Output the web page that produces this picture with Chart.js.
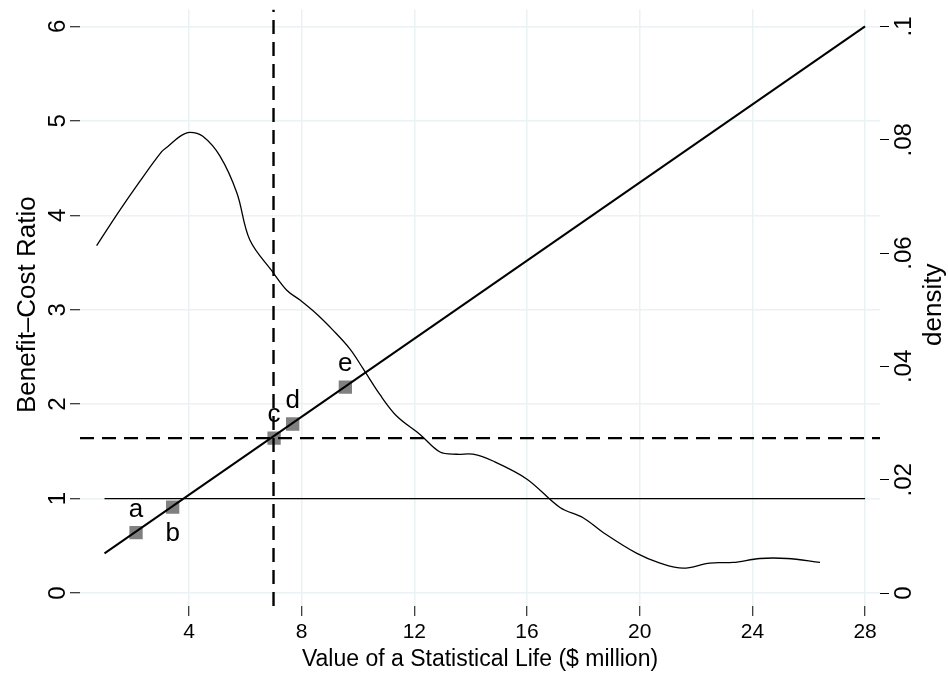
<!DOCTYPE html>
<html>
<head>
<meta charset="utf-8">
<script src="https://cdn.jsdelivr.net/npm/chart.js@4.4.0/dist/chart.umd.min.js"></script>
<style>
  html, body { margin: 0; padding: 0; background: #fff; }
  #wrap { width: 948px; height: 676px; }
</style>
</head>
<body>
<div id="wrap"><canvas id="bcrChart" width="948" height="676"></canvas></div>
<script>
// tick positions
const xTicks = [4, 8, 12, 16, 20, 24, 28];
const bcrTicks = [0, 1, 2, 3, 4, 5, 6];
const densityTicks = [0, 0.02, 0.04, 0.06, 0.08, 0.1];
const densityTickLabels = ["0", ".02", ".04", ".06", ".08", ".1"];

// kernel density of VSL estimates (right axis)
const densityVsl = [0.72, 1.48, 2.26, 3.03, 3.25, 3.68, 4.03, 4.49, 5.10, 5.70, 6.16, 6.98,
  7.48, 7.94, 8.54, 9.11, 9.71, 10.18, 10.78, 11.38, 12.20, 12.91, 13.51, 14.08, 14.79,
  16.00, 17.17, 17.99, 18.70, 19.90, 20.72, 21.54, 22.49, 23.31, 24.27, 25.23, 26.40];
const densityValues = [0.0613, 0.0671, 0.0727, 0.0779, 0.0788, 0.0806, 0.0813, 0.0806, 0.0771,
  0.0706, 0.0623, 0.0566, 0.0534, 0.0517, 0.0492, 0.0464, 0.0431, 0.0396, 0.0350, 0.0312,
  0.0280, 0.0249, 0.0245, 0.0245, 0.0233, 0.0201, 0.0151, 0.0133, 0.0107, 0.0070, 0.0053,
  0.0044, 0.0053, 0.0054, 0.0061, 0.0061, 0.0054];

// benefit-cost ratio as a function of VSL
const bcrLineVsl = [1, 28];
const bcrLineValues = [0.42, 6.0];

// break-even line
const breakEvenVsl = [1, 28];
const breakEvenBcr = 1;

// reference VSL and the ratio it implies
const centralVsl = 7.0;
const centralBcr = 1.64;

// labelled estimates
const pointNames = ["a", "b", "c", "d", "e"];
const pointVsl = [2.12, 3.42, 7.02, 7.68, 9.55];
const pointBcr = [0.64, 0.91, 1.64, 1.79, 2.18];

const X_MIN = 0.13, X_MAX = 28.53;
const Y_MIN = -0.137, Y_MAX = 6.18;
const DENSITY_PER_BCR = 1 / 60;

const FONT = '"Liberation Sans", Arial, Helvetica, sans-serif';
const GRID = '#eaf2f3';

const toXY = (xs, ys) => xs.map((x, i) => ({ x, y: Array.isArray(ys) ? ys[i] : ys }));

// label placement for a-e
const labelSide = ["above", "below", "above", "above", "above"];

const markerLabels = {
  id: 'markerLabels',
  afterDatasetsDraw(chart) {
    const idx = chart.data.datasets.findIndex(d => d.label === 'estimates');
    const meta = chart.getDatasetMeta(idx);
    const ctx = chart.ctx;
    ctx.save();
    ctx.fillStyle = '#000';
    ctx.font = '26px ' + FONT;
    ctx.textAlign = 'center';
    ctx.textBaseline = 'alphabetic';
    meta.data.forEach((pt, i) => {
      const dy = labelSide[i] === 'below' ? 34 : -16;
      ctx.fillText(pointNames[i], pt.x, pt.y + dy);
    });
    ctx.restore();
  }
};

// rotated y tick labels and titles, Stata style
const yAxisText = {
  id: 'yAxisText',
  afterDraw(chart) {
    const ctx = chart.ctx;
    const area = chart.chartArea;
    const rot = (text, x, y, size) => {
      ctx.save();
      ctx.translate(x, y);
      ctx.rotate(-Math.PI / 2);
      ctx.font = size + 'px ' + FONT;
      ctx.fillStyle = '#000';
      ctx.textAlign = 'center';
      ctx.textBaseline = 'alphabetic';
      ctx.fillText(text, 0, 0);
      ctx.restore();
    };
    const yl = chart.scales.y, yr = chart.scales.y1;
    bcrTicks.forEach(v => rot(String(v), 65, yl.getPixelForValue(v), 24));
    densityTicks.forEach((v, i) => rot(densityTickLabels[i], 911, yr.getPixelForValue(v), 24));
    const midY = (area.top + area.bottom) / 2 - 3;
    rot('Benefit\u2013Cost Ratio', 35, midY, 26);
    rot('density', 941, midY, 26);
  }
};

new Chart(document.getElementById('bcrChart'), {
  type: 'line',
  data: {
    datasets: [
      {
        label: 'density',
        data: toXY(densityVsl, densityValues),
        yAxisID: 'y1',
        borderColor: '#000',
        borderWidth: 1.3,
        pointRadius: 0,
        tension: 0.35
      },
      {
        label: 'break-even',
        data: toXY(breakEvenVsl, breakEvenBcr),
        yAxisID: 'y',
        borderColor: '#000',
        borderWidth: 1.3,
        pointRadius: 0
      },
      {
        label: 'bcr',
        data: toXY(bcrLineVsl, bcrLineValues),
        yAxisID: 'y',
        borderColor: '#000',
        borderWidth: 2,
        pointRadius: 0
      },
      {
        label: 'central-vsl',
        data: toXY([centralVsl, centralVsl], [Y_MIN, Y_MAX]),
        yAxisID: 'y',
        borderColor: '#000',
        borderWidth: 2.4,
        borderDash: [14, 8],
        pointRadius: 0
      },
      {
        label: 'central-bcr',
        data: toXY([X_MIN, X_MAX], centralBcr),
        yAxisID: 'y',
        borderColor: '#000',
        borderWidth: 2.4,
        borderDash: [14, 8],
        pointRadius: 0
      },
      {
        label: 'estimates',
        data: toXY(pointVsl, pointBcr),
        yAxisID: 'y',
        showLine: false,
        pointStyle: 'rect',
        pointRadius: 9.4,
        pointBackgroundColor: '#808080',
        pointBorderColor: '#808080',
        pointBorderWidth: 0
      }
    ]
  },
  options: {
    responsive: false,
    animation: false,
    devicePixelRatio: 1,
    layout: { padding: { top: 5, left: 0, right: 0, bottom: 0 } },
    plugins: { legend: { display: false }, tooltip: { enabled: false } },
    scales: {
      x: {
        type: 'linear',
        min: X_MIN,
        max: X_MAX,
        afterBuildTicks: s => { s.ticks = xTicks.map(v => ({ value: v })); },
        afterFit: s => { s.height = 70; },
        border: { display: false },
        grid: { color: GRID, lineWidth: 1.5, tickColor: '#000', tickLength: 10, tickWidth: 1 },
        ticks: { color: '#000', font: { family: FONT, size: 21 }, padding: 4, maxRotation: 0, autoSkip: false },
        title: {
          display: true,
          text: 'Value of a Statistical Life ($ million)',
          color: '#000',
          font: { family: FONT, size: 23 },
          padding: { top: 0, bottom: 3 }
        }
      },
      y: {
        position: 'left',
        min: Y_MIN,
        max: Y_MAX,
        afterBuildTicks: s => { s.ticks = bcrTicks.map(v => ({ value: v })); },
        afterFit: s => { s.width = 80; },
        border: { display: false },
        grid: { color: GRID, lineWidth: 1.5, tickColor: '#000', tickLength: 10, tickWidth: 1 },
        ticks: { display: false }
      },
      y1: {
        position: 'right',
        min: Y_MIN * DENSITY_PER_BCR,
        max: Y_MAX * DENSITY_PER_BCR,
        afterBuildTicks: s => { s.ticks = densityTicks.map(v => ({ value: v })); },
        afterFit: s => { s.width = 68; },
        border: { display: false },
        grid: { drawOnChartArea: false, tickColor: '#000', tickLength: 9, tickWidth: 1 },
        ticks: { display: false }
      }
    }
  },
  plugins: [markerLabels, yAxisText]
});
</script>
</body>
</html>
